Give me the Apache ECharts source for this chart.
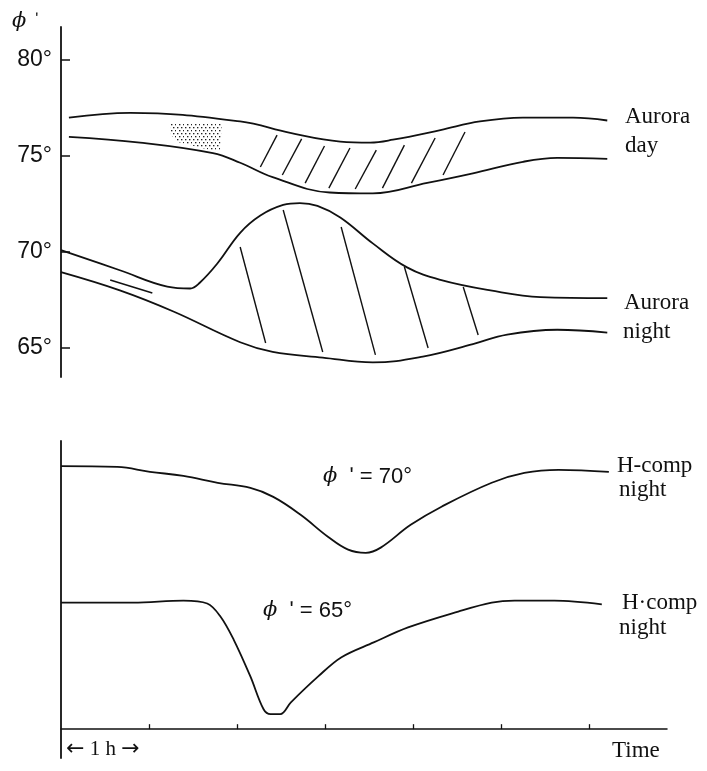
<!DOCTYPE html>
<html><head><meta charset="utf-8">
<script src="https://cdn.jsdelivr.net/npm/echarts@6/dist/echarts.min.js"></script>
<style>html,body{margin:0;padding:0;background:#fff}#chart{width:707px;height:771px}</style>
</head><body><div id="chart"></div>
<script>
// Time axis in hours, latitude axis in degrees (phi'), H-component in relative units
const latTicks = [65, 70, 75, 80];
const hourTicks = [1, 2, 3, 4, 5, 6];

// Auroral zone boundaries, [hour, degrees]
const dayUpper = [[0.09,77.0],[0.79,77.25],[2.04,76.8],[2.61,76.2],[3.18,75.75],[3.52,75.7],[3.78,75.85],[4.32,76.35],[4.77,76.8],[5.26,77.0],[5.83,77.0],[6.22,76.85]];
const dayLower = [[0.09,76.0],[0.90,75.7],[1.73,75.15],[2.04,74.65],[2.41,73.9],[3.06,73.1],[3.55,73.05],[4.17,73.6],[4.69,74.1],[5.26,74.7],[5.65,74.9],[6.22,74.85]];
const nightUpper = [[0.0,70.1],[0.67,69.05],[1.21,68.2],[1.47,68.1],[1.58,68.4],[1.78,69.4],[2.04,71.0],[2.27,71.9],[2.53,72.45],[2.72,72.55],[2.92,72.4],[3.18,71.8],[3.55,70.45],[3.94,69.2],[4.32,68.55],[4.89,68.0],[5.46,67.65],[6.22,67.6]];
const nightLower = [[0.0,68.95],[0.67,68.0],[1.28,66.9],[2.04,65.3],[2.41,64.8],[2.98,64.5],[3.55,64.25],[4.12,64.55],[4.69,65.2],[5.08,65.7],[5.65,65.95],[6.22,65.8]];

// Short arc inside the night band before onset
const nightArc = [[0.56,68.54,1.04,67.86]];

// Hatching strokes, [h1, deg1, h2, deg2]
const dayHatch = [
  [2.27,74.43,2.46,76.09],[2.52,74.01,2.74,75.89],[2.78,73.59,3.00,75.52],[3.05,73.33,3.29,75.42],
  [3.35,73.28,3.59,75.31],[3.66,73.33,3.91,75.57],[3.99,73.59,4.26,75.94],[4.35,74.01,4.60,76.25]
];
const nightHatch = [
  [2.04,70.26,2.33,65.26],[2.53,72.19,2.98,64.79],[3.19,71.30,3.58,64.64],[3.91,69.22,4.18,65.0],[4.58,68.18,4.75,65.68]
];

// Diffuse (dotted) aurora patch outline
const dottedPatch = [[1.25,76.72],[1.83,76.67],[1.81,75.31],[1.70,75.31],[1.33,75.73],[1.25,76.1]];

// H-component magnetograms
const hcomp70 = [[0.0,91.3],[0.64,91.0],[1.01,89.3],[1.39,87.9],[1.78,85.5],[2.15,83.7],[2.41,80.6],[2.72,74.4],[3.03,66.8],[3.26,62.3],[3.46,61.2],[3.63,63.0],[3.97,70.9],[4.32,77.2],[4.89,85.5],[5.26,88.9],[5.65,90.0],[6.22,89.3]];
const hcomp65 = [[0.0,43.9],[0.82,43.9],[1.39,44.6],[1.66,43.6],[1.81,39.1],[1.96,31.1],[2.15,18.3],[2.30,6.9],[2.38,5.2],[2.49,5.2],[2.61,9.3],[2.92,18.3],[3.18,24.9],[3.55,30.1],[3.94,35.3],[4.51,40.8],[4.89,43.9],[5.15,44.6],[5.60,44.6],[6.14,43.3]];

const INK = '#111';
const chart = echarts.init(document.getElementById('chart'), null, {renderer: 'canvas'});

// staggered dot texture for the diffuse patch
const dotTile = document.createElement('canvas');
dotTile.width = 8; dotTile.height = 6;
const dctx = dotTile.getContext('2d');
dctx.fillStyle = '#222';
dctx.fillRect(1, 1, 1.4, 1.3);
dctx.fillRect(5, 1, 1.4, 1.3);
dctx.fillRect(3, 4, 1.4, 1.3);
dctx.fillRect(7, 4, 1, 1.3);

function curve(data, xi, yi, smooth) {
  return {type: 'line', xAxisIndex: xi, yAxisIndex: yi, data, showSymbol: false,
    smooth: smooth,
    lineStyle: {color: INK, width: 1.8}, silent: true, animation: false};
}
function strokes(data, width) {
  return {type: 'custom', xAxisIndex: 0, yAxisIndex: 0, data, silent: true, animation: false,
    encode: {x: [0, 2], y: [1, 3]},
    renderItem(params, api) {
      const a = api.coord([api.value(0), api.value(1)]);
      const b = api.coord([api.value(2), api.value(3)]);
      return {type: 'line', shape: {x1: a[0], y1: a[1], x2: b[0], y2: b[1]},
        style: {stroke: INK, lineWidth: width}};
    }};
}

const serif = '"Liberation Serif", "DejaVu Serif", serif';
const sans = '"Liberation Sans", Arial, sans-serif';
function label(text, x, y, font) {
  return {type: 'text', x, y, silent: true,
    style: {text, font, fill: INK, verticalAlign: 'middle'}};
}
function phiLabel(rest, x, y) {
  return {type: 'text', x, y, silent: true,
    style: {text: '{p|ϕ}{s|  \u02B9 = ' + rest + '}', verticalAlign: 'middle', fill: INK,
      rich: {p: {font: 'italic 21px "DejaVu Serif", serif', fill: INK},
             s: {font: '22px ' + sans, fill: INK}}}};
}

chart.setOption({
  backgroundColor: '#fff',
  animation: false,
  grid: [
    {left: 61, top: 27, width: 606, height: 350},
    {left: 61, top: 441, width: 606, height: 317}
  ],
  xAxis: [
    {type: 'value', gridIndex: 0, min: 0, max: 6.9, show: false},
    {type: 'value', gridIndex: 1, min: 0, max: 6.88,
      axisLine: {show: true, onZero: true, lineStyle: {color: INK, width: 1.5}},
      axisTick: {show: true, inside: true, length: 5, customValues: hourTicks, lineStyle: {color: INK, width: 1.3}},
      axisLabel: {show: false}, splitLine: {show: false}}
  ],
  yAxis: [
    {type: 'value', gridIndex: 0, min: 63.49, max: 81.72,
      axisLine: {show: true, lineStyle: {color: INK, width: 1.8}},
      axisTick: {show: true, inside: true, length: 9, customValues: latTicks, lineStyle: {color: INK, width: 1.5}},
      axisLabel: {show: true, customValues: latTicks, formatter: v => v + '°', margin: 9,
        fontSize: 23, fontFamily: sans, color: INK},
      splitLine: {show: false}},
    {type: 'value', gridIndex: 1, min: -10, max: 100,
      axisLine: {show: true, onZero: false, lineStyle: {color: INK, width: 1.8}},
      axisTick: {show: false}, axisLabel: {show: false}, splitLine: {show: false}}
  ],
  series: [
    curve(dayUpper, 0, 0, 0.4),
    curve(dayLower, 0, 0, 0.4),
    curve(nightUpper, 0, 0, 0.4),
    curve(nightLower, 0, 0, 0.4),
    strokes(nightArc, 1.6),
    strokes(dayHatch, 1.4),
    strokes(nightHatch, 1.4),
    {type: 'custom', xAxisIndex: 0, yAxisIndex: 0, data: [0], silent: true, animation: false,
      renderItem(params, api) {
        const pts = dottedPatch.map(p => api.coord(p));
        return {type: 'polygon', shape: {points: pts},
          style: {fill: {image: dotTile, repeat: 'repeat'}, stroke: null}};
      }},
    curve(hcomp70, 1, 1, 0.4),
    curve(hcomp65, 1, 1, 0.35)
  ],
  graphic: [
    {type: 'text', x: 12, y: 22, silent: true,
      style: {text: '{p|ϕ}{s|  \u02B9}', verticalAlign: 'middle', fill: INK,
        rich: {p: {font: 'italic 21px "DejaVu Serif", serif', fill: INK}, s: {font: '16px ' + sans, fill: INK, verticalAlign: 'top'}}}},
    label('Aurora', 625, 117, '23px ' + serif),
    label('day', 625, 146, '23px ' + serif),
    label('Aurora', 624, 303, '23px ' + serif),
    label('night', 623, 332, '23px ' + serif),
    label('H-comp', 617, 466, '23px ' + serif),
    label('night', 619, 490, '23px ' + serif),
    label('H\u00B7comp', 622, 603, '23px ' + serif),
    label('night', 619, 628, '23px ' + serif),
    phiLabel('70°', 323, 477),
    phiLabel('65°', 263, 611),
    {type: 'text', x: 66, y: 749, silent: true,
      style: {text: '{a|\u2190}{t| 1 h }{a|\u2192}', verticalAlign: 'middle', fill: INK,
        rich: {a: {font: '22px "DejaVu Sans", sans-serif', fill: INK}, t: {font: '21px ' + serif, fill: INK}}}},
    label('Time', 612, 751, '23px ' + serif)
  ]
});
</script></body></html>
